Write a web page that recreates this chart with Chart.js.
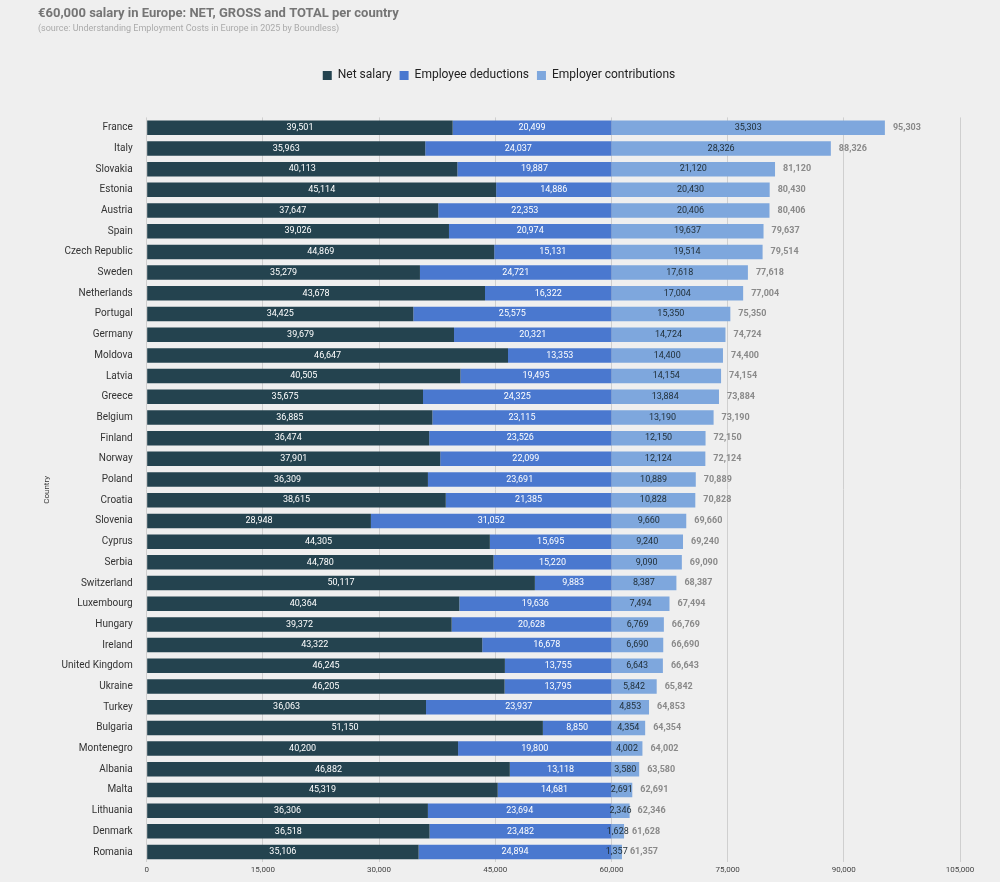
<!DOCTYPE html>
<html><head><meta charset="utf-8">
<script src="https://cdn.jsdelivr.net/npm/chart.js@4/dist/chart.umd.min.js"></script>
<style>html,body{margin:0;padding:0;background:#efefef}#w{width:1000px;height:882px}</style>
</head><body><div id="w"><canvas id="c"></canvas></div>
<script>
const countries=["France","Italy","Slovakia","Estonia","Austria","Spain","Czech Republic","Sweden","Netherlands","Portugal","Germany","Moldova","Latvia","Greece","Belgium","Finland","Norway","Poland","Croatia","Slovenia","Cyprus","Serbia","Switzerland","Luxembourg","Hungary","Ireland","United Kingdom","Ukraine","Turkey","Bulgaria","Montenegro","Albania","Malta","Lithuania","Denmark","Romania"];
const netSalary=[39501,35963,40113,45114,37647,39026,44869,35279,43678,34425,39679,46647,40505,35675,36885,36474,37901,36309,38615,28948,44305,44780,50117,40364,39372,43322,46245,46205,36063,51150,40200,46882,45319,36306,36518,35106];
const employeeDeductions=[20499,24037,19887,14886,22353,20974,15131,24721,16322,25575,20321,13353,19495,24325,23115,23526,22099,23691,21385,31052,15695,15220,9883,19636,20628,16678,13755,13795,23937,8850,19800,13118,14681,23694,23482,24894];
const employerContributions=[35303,28326,21120,20430,20406,19637,19514,17618,17004,15350,14724,14400,14154,13884,13190,12150,12124,10889,10828,9660,9240,9090,8387,7494,6769,6690,6643,5842,4853,4354,4002,3580,2691,2346,1628,1357];
const totals=[95303,88326,81120,80430,80406,79637,79514,77618,77004,75350,74724,74400,74154,73884,73190,72150,72124,70889,70828,69660,69240,69090,68387,67494,66769,66690,66643,65842,64853,64354,64002,63580,62691,62346,61628,61357];
const xTicks=[0,15000,30000,45000,60000,75000,90000,105000];
const fmt=v=>v.toLocaleString('en-US');
const labelsPlugin={id:'lbl',afterDatasetsDraw(ch){const c=ch.ctx;c.save();c.textBaseline='middle';
 ch.data.datasets.forEach((ds,di)=>{const m=ch.getDatasetMeta(di);m.data.forEach((b,i)=>{const x=(b.x+b.base)/2;c.font='9px Roboto';c.textAlign='center';c.fillStyle=di==2?'#1f2d36':'#ffffff';c.fillText(fmt(ds.data[i]),x,b.y);
 if(di==2){c.font='bold 9px Roboto';c.textAlign='left';c.fillStyle='#8a8a8a';c.fillText(fmt(totals[i]),b.x+8,b.y);}});});c.restore();}};
const legendSpace={id:'ls',beforeInit(ch){const o=ch.legend.fit;ch.legend.fit=function(){o.bind(ch.legend)();this.height+=26;};}};
new Chart(document.getElementById('c'),{type:'bar',
data:{labels:countries,datasets:[
{label:'Net salary',data:netSalary,backgroundColor:'#24434f'},
{label:'Employee deductions',data:employeeDeductions,backgroundColor:'#4a78cf'},
{label:'Employer contributions',data:employerContributions,backgroundColor:'#7ea7dd'}]},
options:{indexAxis:'y',responsive:true,maintainAspectRatio:false,animation:false,
layout:{padding:{left:38,right:40,top:4,bottom:4}},
datasets:{bar:{barPercentage:0.7,categoryPercentage:1}},
plugins:{title:{display:true,text:'€60,000 salary in Europe: NET, GROSS and TOTAL per country',align:'start',color:'#757575',font:{family:'Roboto',size:13,weight:'bold'},padding:{top:2,bottom:2}},
subtitle:{display:true,text:'(source: Understanding Employment Costs in Europe in 2025 by Boundless)',align:'start',color:'#aaa',font:{family:'Roboto',size:9},padding:{bottom:27}},
legend:{position:'top',labels:{boxWidth:9,boxHeight:9,color:'#222',font:{family:'Roboto',size:12},padding:8}},tooltip:{enabled:false}},
scales:{x:{stacked:true,min:0,max:105000,afterBuildTicks(a){a.ticks=xTicks.map(v=>({value:v}));},ticks:{color:'#444',font:{family:'Roboto',size:8},callback:v=>fmt(v)},grid:{color:'#cfcfcf',drawTicks:false},border:{display:false}},
y:{stacked:true,ticks:{color:'#333',font:{family:'Roboto',size:10},padding:6},grid:{display:false},border:{display:false},title:{display:true,text:'Country',color:'#333',font:{family:'Roboto',size:8}}}}},
plugins:[labelsPlugin,legendSpace]});
</script></body></html>
